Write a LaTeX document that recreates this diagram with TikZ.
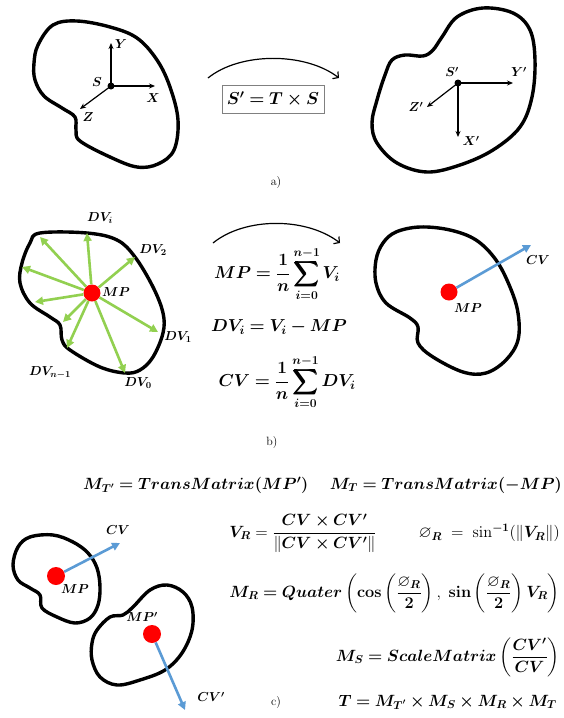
\RequirePackage{fix-cm}
\documentclass[tikz,border=0pt]{standalone}
\usepackage{amsmath,amssymb}
\usepackage{bm}
\usepackage{xcolor}
\usetikzlibrary{arrows.meta}

\definecolor{dvgreen}{RGB}{146,208,80}
\definecolor{cvblue}{RGB}{91,155,213}

\begin{document}
\begin{tikzpicture}[x=1pt,y=-1pt,
    blobline/.style={line width=3.4pt,line join=round},
    axisarrow/.style={line width=1.2pt,-{Stealth[length=6pt,width=5pt]}},
    curvearrow/.style={line width=1.2pt,-{Straight Barb[length=4pt,width=9pt]}},
    dvarrow/.style={dvgreen,line width=2.6pt,-{Triangle[length=8pt,width=8pt]}},
    cvarrow/.style={cvblue,line width=2.6pt,-{Triangle[length=8pt,width=8pt]}},
    lbl/.style={font=\fontsize{13}{15}\selectfont,inner sep=0pt},
    eqn/.style={font=\fontsize{17.3}{20}\selectfont,inner sep=0pt},
    eqnc/.style={font=\fontsize{16.3}{19}\selectfont,inner sep=0pt},
    tagtext/.style={font=\fontsize{12}{14}\selectfont,inner sep=0pt},
    reddot/.style={circle,fill=red,minimum size=17pt,inner sep=0pt},
    blackdot/.style={circle,fill=black,minimum size=7pt,inner sep=0pt}]
  \fill[white] (0,0) rectangle (563,718);
  \useasboundingbox (0,0) rectangle (563,718);

  % a) frame S and its image S'
  \draw[blobline] plot[smooth cycle,tension=0.6] coordinates {(53,25) (77,21) (110,27) (137,38) (157,60) (170,87) (178,120) (174,150) (158,164) (137,167) (110,157) (80,141) (76,130) (75,117) (62,108) (44,96) (35,80) (34,63) (38,45)};
  \node[blackdot] (s) at (111,86) {};
  \coordinate (sx) at (155,86);
  \coordinate (sy) at (111,43);
  \coordinate (sz) at (80,109);
  \draw[axisarrow] (s.center) -- (sx);
  \draw[axisarrow] (s.center) -- (sy);
  \draw[axisarrow] (s.center) -- (sz);
  \node[lbl] (ls) at (97,82) {$\bm{S}$};
  \node[lbl] (lx) at (153,98) {$\bm{X}$};
  \node[lbl] (ly) at (121,44) {$\bm{Y}$};
  \node[lbl] (lz) at (88,117) {$\bm{Z}$};

  \coordinate (ta) at (208,78);
  \coordinate (tb) at (339,78);
  \draw[curvearrow] (ta) .. controls +(32,-26) and +(-34,-26) .. (tb);
  \node[eqn,draw=gray,line width=0.6pt,minimum width=102pt,minimum height=28pt] (eqa) at (273,99) {$\bm{S' = T \times S}$};

  \draw[blobline] plot[smooth cycle,tension=0.6] coordinates {(392,60) (405,55) (423,56) (433,50) (442,37) (457,17) (483,8) (513,13) (530,30) (535,60) (532,97) (520,127) (493,150) (460,165) (427,172) (397,163) (377,143) (372,123) (377,100) (385,75)};
  \node[blackdot] (s2) at (458,83) {};
  \coordinate (s2x) at (458,137);
  \coordinate (s2y) at (513,83);
  \coordinate (s2z) at (427,107);
  \draw[axisarrow] (s2.center) -- (s2x);
  \draw[axisarrow] (s2.center) -- (s2y);
  \draw[axisarrow] (s2.center) -- (s2z);
  \node[lbl] (ls2) at (452,72) {$\bm{S'}$};
  \node[lbl] (lx2) at (471,141) {$\bm{X'}$};
  \node[lbl] (ly2) at (519,72) {$\bm{Y'}$};
  \node[lbl] (lz2) at (416,107) {$\bm{Z'}$};
  \node[tagtext] (taga) at (276,183) {a)};

  % b) mean point and characteristic vector
  \draw[blobline] plot[smooth cycle,tension=0.6] coordinates {(40,233) (87,233) (117,240) (135,257) (153,287) (163,313) (163,333) (153,357) (140,370) (125,373) (100,367) (70,350) (62,340) (60,325) (50,317) (30,303) (20,283) (22,263) (30,243)};
  \node[reddot] (mpb) at (92,293) {};
  \foreach \x/\y [count=\k] in {40/237,87/233,135/257,158/332,125/373,67/348,63/322,35/302,22/267} {
    \coordinate (dv\k) at (\x,\y);
    \draw[dvarrow] (mpb) -- (dv\k);
  }
  \node[lbl] (lmpb) at (116,292) {$\bm{MP}$};
  \node[lbl] (ldvi) at (100,218) {$\bm{DV_i}$};
  \node[lbl] (ldv2) at (153,250) {$\bm{DV_2}$};
  \node[lbl] (ldv1) at (178,337) {$\bm{DV_1}$};
  \node[lbl] (ldv0) at (138,383) {$\bm{DV_0}$};
  \node[lbl] (ldvn) at (50,373) {$\bm{DV_{n-1}}$};

  \coordinate (tc) at (213,243);
  \coordinate (td) at (340,243);
  \draw[curvearrow] (tc) .. controls +(32,-26) and +(-34,-26) .. (td);
  \node[eqn] (eqmp) at (277,274) {$\displaystyle \bm{MP = \frac{1}{n}\sum_{i=0}^{n-1} V_i}$};
  \node[eqn] (eqdv) at (279,327) {$\bm{DV_i = V_i - MP}$};
  \node[eqn] (eqcv) at (287,382) {$\displaystyle \bm{CV = \frac{1}{n}\sum_{i=0}^{n-1} DV_i}$};

  \draw[blobline] plot[smooth cycle,tension=0.6] coordinates {(396,232) (420,227) (450,230) (476,240) (496,260) (510,287) (518,313) (518,340) (506,360) (486,373) (463,372) (433,357) (418,343) (418,327) (410,318) (386,303) (376,283) (376,260) (383,243)};
  \node[reddot] (mpr) at (449,292) {};
  \coordinate (cvr) at (531,245);
  \draw[cvarrow] (mpr) -- (cvr);
  \node[lbl] (lmpr) at (468,308) {$\bm{MP}$};
  \node[lbl] (lcvr) at (538,260) {$\bm{CV}$};
  \node[tagtext] (tagb) at (272,442) {b)};

  % c) transformation matrix
  \draw[blobline] plot[smooth cycle,tension=0.6] coordinates {(30,537) (53,535) (73,542) (88,553) (97,568) (100,587) (98,605) (90,618) (75,623) (57,617) (42,608) (40,595) (30,588) (18,580) (13,565) (18,547)};
  \node[reddot,minimum size=18pt] (mpc) at (56,576) {};
  \coordinate (cvc) at (120,543);
  \draw[cvarrow] (mpc) -- (cvc);
  \node[lbl] (lmpc) at (75,589) {$\bm{MP}$};
  \node[lbl] (lcvc) at (118,530) {$\bm{CV}$};

  \draw[blobline] plot[smooth cycle,tension=0.6] coordinates {(110,617) (123,615) (133,607) (150,590) (167,585) (183,592) (192,607) (192,630) (182,653) (165,670) (140,680) (117,685) (100,677) (92,660) (92,643) (97,630)};
  \node[reddot,minimum size=18pt] (mpd) at (152,634) {};
  \coordinate (cvd) at (185,710);
  \draw[cvarrow] (mpd) -- (cvd);
  \node[lbl] (lmpd) at (142,617) {$\bm{MP'}$};
  \node[lbl] (lcvd) at (211,697) {$\bm{CV'}$};
  \node[tagtext] (tagc) at (276,702) {c)};

  \node[eqnc,anchor=west] (eqmt1) at (83,485) {$\bm{M_{T'} = TransMatrix(MP')}$};
  \node[eqnc,anchor=east] (eqmt) at (562,485) {$\bm{M_T = TransMatrix(-MP)}$};
  \node[eqnc] (eqvr) at (303,533) {$\displaystyle \bm{V_R} = \frac{\bm{CV \times CV'}}{\|\bm{CV \times CV'}\|}$};
  \node[eqnc,anchor=east] (eqphi) at (560,533) {$\varnothing_{\bm R} \;=\; \sin^{\bm{-1}}(\|\bm{V_R}\|)$};
  \node[eqnc,anchor=east] (eqmr) at (560,593) {$\displaystyle \bm{M_R = Quater}\left(\mathbf{cos}\left(\frac{\varnothing_{\bm R}}{\mathbf{2}}\right),\ \mathbf{sin}\left(\frac{\varnothing_{\bm R}}{\mathbf{2}}\right)\bm{V_R}\right)$};
  \node[eqnc,anchor=east] (eqms) at (560,657) {$\displaystyle \bm{M_S = ScaleMatrix}\left(\frac{\bm{CV'}}{\bm{CV}}\right)$};
  \node[eqnc,anchor=east] (eqt) at (557,702) {$\bm{T = M_{T'} \times M_S \times M_R \times M_T}$};
\end{tikzpicture}
\end{document}
